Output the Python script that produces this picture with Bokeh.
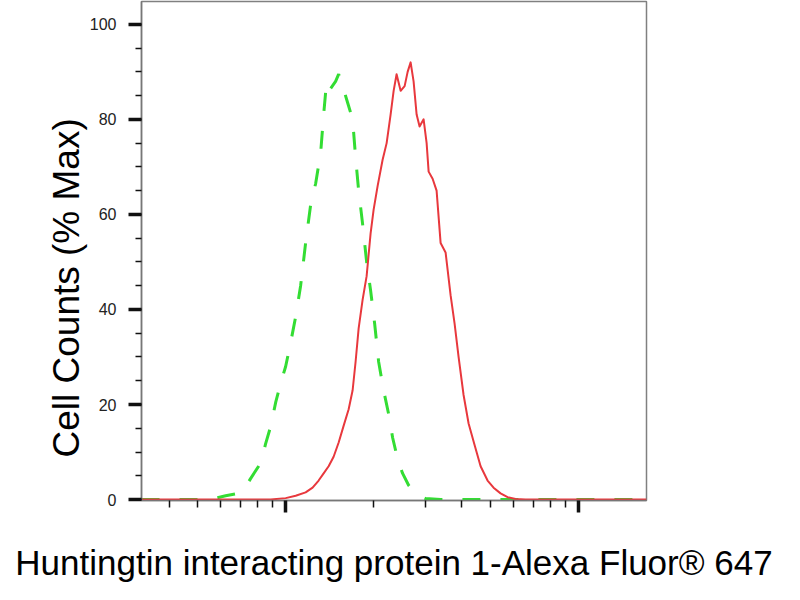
from bokeh.plotting import figure
from bokeh.models import Range1d, FixedTicker, SingleIntervalTicker, Title
from bokeh.embed import file_html
from bokeh.resources import INLINE

# fluorescence intensity (log scale) vs cell counts (% of max)
isotype_x = [322, 513, 577, 624, 675, 719, 759, 822, 854, 889, 925, 962, 1000, 1040, 1082,
             1125, 1170, 1217, 1266, 1317, 1348, 1380, 1424, 1481, 1517, 1565, 1628, 1693,
             1733, 1775, 1831, 1890, 1950, 2013, 2077, 2160, 2247, 2319, 2412, 2508, 2629,
             2778, 3005, 3381, 17060]
isotype_y = [0, 0, 0.3, 0.8, 1.2, 2, 4.4, 7.7, 11.7, 15.4, 20.5, 24.5, 28, 33, 38.5,
             45, 54, 62, 66.5, 73, 81, 88, 86.5, 88, 89.5, 87, 83.5, 80,
             72, 65, 58, 50, 44, 37, 29, 23, 18, 13, 8.5, 5.5, 3,
             1.2, 0.2, 0, 0]

antibody_x = [322, 889, 1000, 1082, 1170, 1236, 1296, 1348, 1402, 1458, 1517, 1577, 1641,
              1693, 1733, 1775, 1831, 1890, 1950, 1997, 2061, 2143, 2212, 2282, 2337, 2392,
              2469, 2548, 2609, 2671, 2734, 2800, 2866, 2958, 3029, 3077, 3175, 3276, 3381,
              3516, 3657, 3774, 3894, 4050, 4213, 4416, 4630, 4891, 5127, 5417, 5724, 6095,
              6593, 17060]
antibody_y = [0, 0, 0.3, 0.8, 1.5, 2.5, 4, 5.5, 7, 9, 12, 15.5, 19,
              23, 29, 36, 42, 47, 56, 61, 66, 71.5, 75, 81, 86, 89.5,
              86, 87, 90, 92, 88, 81, 78.5, 80, 75, 69, 67.5, 65, 54,
              52, 43, 37, 30, 22, 16, 11.5, 7, 4, 2.5, 1.3, 0.5, 0.1,
              0, 0]

x_major = [1000, 10000]
x_minor = [400, 500, 600, 700, 800, 900, 2000, 3000, 4000, 5000, 6000, 7000, 8000, 9000]

x_title = "Huntingtin interacting protein 1-Alexa Fluor® 647"
y_title = "Cell Counts (% Max)"

p = figure(width=784, height=584, x_axis_type="log",
           x_range=Range1d(322, 17060), y_range=Range1d(-0.2, 104.8),
           output_backend="svg", toolbar_location=None,
           min_border_left=141, min_border_right=138, min_border_top=1, min_border_bottom=84)

p.line(isotype_x, isotype_y, color="#33dd33", line_width=3, line_dash="18 20")
p.line(antibody_x, antibody_y, color="#e8383d", line_width=2, line_join="round")

p.grid.visible = False
p.outline_line_color = "#808080"
p.outline_line_width = 1.5
p.background_fill_color = "white"
p.border_fill_color = "white"

p.xaxis.ticker = FixedTicker(ticks=x_major, minor_ticks=x_minor)
# decade labels are not shown in the original
p.xaxis.major_label_text_alpha = 0
p.xaxis.major_label_text_font_size = "10px"
p.xaxis.major_label_standoff = 0
p.xaxis.major_tick_out = 12
p.xaxis.major_tick_in = 0
p.xaxis.major_tick_line_width = 3.5
p.xaxis.minor_tick_out = 7
p.xaxis.minor_tick_in = 0
p.xaxis.minor_tick_line_width = 1.5
p.xaxis.axis_label = x_title
p.xaxis.axis_label_standoff = 30
p.xaxis.axis_label_text_font = "Liberation Sans"
p.xaxis.axis_label_text_font_size = "35px"
p.xaxis.axis_label_text_font_style = "normal"
p.xaxis.axis_label_text_color = "black"

p.yaxis.ticker = SingleIntervalTicker(interval=20, num_minor_ticks=4)
p.yaxis.major_tick_out = 13
p.yaxis.major_tick_in = 0
p.yaxis.major_tick_line_width = 3.5
p.yaxis.minor_tick_out = 6
p.yaxis.minor_tick_in = 0
p.yaxis.minor_tick_line_width = 1.5
p.yaxis.major_label_standoff = 12
p.yaxis.major_label_text_font = "Liberation Sans"
p.yaxis.major_label_text_font_size = "16px"
p.yaxis.major_label_text_color = "#222222"

for ax in (p.xaxis, p.yaxis):
    ax.axis_line_color = "#777777"
    ax.axis_line_width = 1.5
    ax.major_tick_line_color = "#111111"
    ax.minor_tick_line_color = "#111111"

# y title as a side-panel title so it can be shifted along the frame like the original
p.add_layout(Title(text=y_title, align="left", offset=43, standoff=0,
                   text_font="Liberation Sans", text_font_size="37px",
                   text_font_style="normal", text_color="black"), "left")

open("out.html", "w").write(file_html(p, INLINE))
